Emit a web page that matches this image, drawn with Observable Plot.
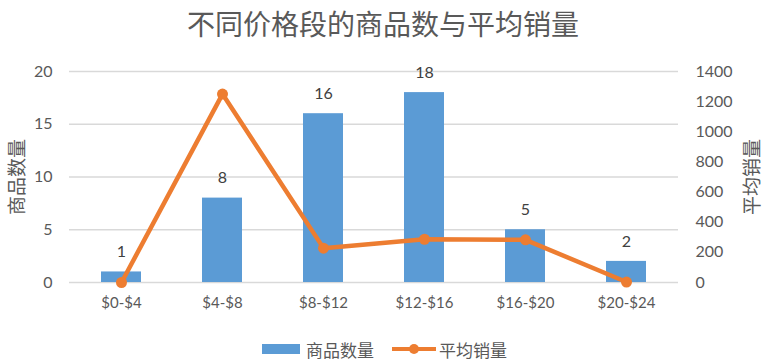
<!DOCTYPE html>
<html>
<head>
<meta charset="utf-8">
<script src="https://cdn.jsdelivr.net/npm/d3@7"></script>
<script src="https://cdn.jsdelivr.net/npm/@observablehq/plot@0.6"></script>
<style>
  html, body { margin: 0; padding: 0; background: #fff; }
  body { width: 766px; height: 364px; position: relative; overflow: hidden;
         font-family: Lato, "Noto Sans CJK SC", sans-serif; }
  #title { position: absolute; top: 0; left: 0; width: 766px; height: 46px; line-height: 46px;
           text-align: center; font-family: "Noto Sans CJK SC", sans-serif; font-size: 28px; color: #595959; }
  #chart { position: absolute; top: 46px; left: 0; }
  #legend { position: absolute; top: 337px; left: 262px; height: 24px; display: flex; align-items: center;
            font-family: "Noto Sans CJK SC", sans-serif; font-size: 17px; color: #595959; }
  .sw-bar { width: 38px; height: 10px; background: #5B9BD5; margin-right: 6px; }
  .item { display: flex; align-items: center; margin-right: 17px; }
</style>
</head>
<body>
<div id="title">不同价格段的商品数与平均销量</div>
<div id="chart"></div>
<div id="legend">
  <div class="item"><div class="sw-bar"></div><span>商品数量</span></div>
  <div class="item"><svg width="46" height="14" style="margin-right:2px"><line x1="1" y1="7" x2="45" y2="7" stroke="#ED7D31" stroke-width="4"/><circle cx="23" cy="7" r="5" fill="#ED7D31"/></svg><span>平均销量</span></div>
</div>
<script>
const categories = ["$0-$4", "$4-$8", "$8-$12", "$12-$16", "$16-$20", "$20-$24"];
const counts = [1, 8, 16, 18, 5, 2];
const avgSales = [0, 1250, 228, 287, 283, 3];
const countTicks = [0, 5, 10, 15, 20];
const salesTicks = [0, 200, 400, 600, 800, 1000, 1200, 1400];
const countMax = 20, salesMax = 1400;
const k = countMax / salesMax;

const data = categories.map((c, i) => ({cat: c, count: counts[i], sales: avgSales[i]}));

const font = "Lato, 'Noto Sans CJK SC', sans-serif";
const plot = Plot.plot({
  width: 766,
  height: 276,
  marginTop: 25,
  marginBottom: 40,
  marginLeft: 69,
  marginRight: 88,
  style: {fontFamily: font, fontSize: "15px", color: "#595959", background: "#fff"},
  x: {domain: categories, paddingInner: 0.6, paddingOuter: 0.3, label: null},
  y: {domain: [0, countMax], label: null},
  marks: [
    Plot.ruleY(countTicks, {stroke: "#d9d9d9", strokeWidth: 1.3}),
    Plot.axisX({tickSize: 0, tickPadding: 15, fontSize: 15, label: null}),
    Plot.axisY(countTicks, {anchor: "left", tickSize: 0, tickPadding: 17, fontSize: 16, fill: "#595959",
      label: "商品数量", labelArrow: "none", labelAnchor: "center", labelOffset: 59}),
    Plot.axisY(salesTicks.map(v => v * k), {anchor: "right", tickSize: 0, tickPadding: 17, fontSize: 16, fill: "#595959",
      tickFormat: v => String(Math.round(v / k)),
      label: "平均销量", labelArrow: "none", labelAnchor: "center", labelOffset: 80}),
    Plot.barY(data, {x: "cat", y: "count", fill: "#5B9BD5"}),
    Plot.text(data, {x: "cat", y: "count", text: d => String(d.count), dy: -20, fontSize: 16, fill: "#404040"}),
    Plot.line(data, {x: "cat", y: d => d.sales * k, stroke: "#ED7D31", strokeWidth: 4.5, strokeLinejoin: "round"}),
    Plot.dot(data, {x: "cat", y: d => d.sales * k, r: 5.5, fill: "#ED7D31"})
  ]
});
document.getElementById("chart").appendChild(plot);
plot.querySelectorAll("[aria-label='y-axis label']").forEach(el => {
  el.setAttribute("font-size", "19");
  el.setAttribute("fill", "#595959");
  el.style.fontFamily = "'Noto Sans CJK SC', sans-serif";
});
</script>
</body>
</html>
